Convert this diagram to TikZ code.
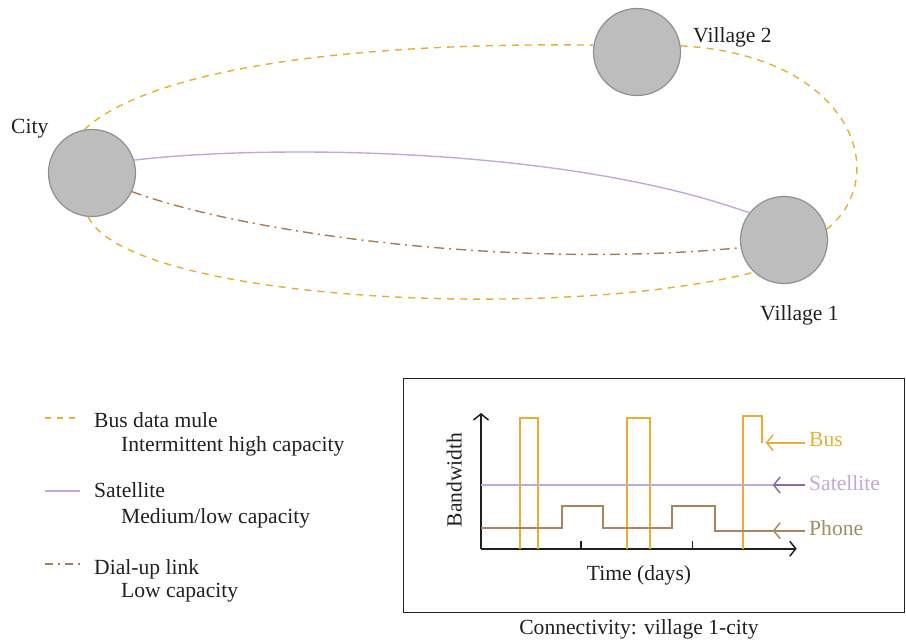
\documentclass[tikz,border=0pt]{standalone}
\usepackage{fontspec}
\setmainfont{Liberation Serif}
\usetikzlibrary{arrows.meta}
\definecolor{busc}{HTML}{E8AE32}
\definecolor{satc}{HTML}{C3A7DA}
\definecolor{satarrow}{HTML}{8A68AE}
\definecolor{dialc}{HTML}{A87B50}
\definecolor{phonec}{HTML}{A9845E}
\definecolor{phonetext}{HTML}{9E8D62}
\definecolor{townfill}{HTML}{BDBDBD}
\definecolor{townedge}{HTML}{8F8F8F}
\definecolor{ink}{HTML}{231F20}
\tikzset{
  town/.style={circle, minimum size=87pt, inner sep=0pt, fill=townfill, draw=townedge, line width=1.2pt},
  label text/.style={anchor=base west, inner sep=0pt},
  buslink/.style={busc, line width=1.4pt, dash pattern=on 7pt off 6pt},
  satlink/.style={satc, line width=1.4pt},
  diallink/.style={dialc, line width=1.4pt, dash pattern=on 10pt off 5pt on 2pt off 5pt},
  series/.style={line width=1.8pt},
  axis/.style={ink, line width=1.6pt, -{Straight Barb[length=6pt,width=15pt,line width=1.5pt]}},
  pointer/.style={line width=1.6pt, -{Straight Barb[length=6.5pt,width=16pt,line width=1.5pt]}},
}
\begin{document}
\begin{tikzpicture}[x=1pt, y=-1pt, font=\fontsize{21.6}{26}\selectfont, text=ink]
\useasboundingbox (0,0) rectangle (906,641);

% towns
\node[town] (city) at (92,173) {};
\node[town] (v2) at (637,52) {};
\node[town] (v1) at (784,240) {};
\node[label text] (citylbl) at (11,133) {City};
\node[label text] (v2lbl) at (693,42) {Village 2};
\node[label text] (v1lbl) at (760,320) {Village 1};

% links
\draw[buslink] (city.100) .. controls +(66,-61) and +(-243,-3) .. (v2.171);
\draw[buslink] (v2.8) .. controls +(170,9) and +(67,-54) .. (v1.14);
\draw[buslink] (city.265) .. controls +(40,83) and +(-202,51) .. (v1.227);
\draw[satlink] (city.17) .. controls +(125,-15) and +(-189,-68) .. (v1.142);
\draw[diallink] (city.335) .. controls +(117,43) and +(-221,22) .. (v1.190);

% legend
\coordinate (lb1) at (45,418); \coordinate (lb2) at (80,418);
\coordinate (ls1) at (45,491); \coordinate (ls2) at (80,491);
\coordinate (ld1) at (45,564); \coordinate (ld2) at (80,564);
\draw[buslink, dash pattern=on 6pt off 6pt] (lb1) -- (lb2);
\draw[satlink] (ls1) -- (ls2);
\draw[diallink, dash pattern=on 8pt off 5pt on 2pt off 5pt] (ld1) -- (ld2);
\node[label text] (lbt1) at (94,427) {Bus data mule};
\node[label text] (lbt2) at (121,451) {Intermittent high capacity};
\node[label text] (lst1) at (94,497) {Satellite};
\node[label text] (lst2) at (121,523) {Medium/low capacity};
\node[label text] (ldt1) at (94,574) {Dial-up link};
\node[label text] (ldt2) at (121,597) {Low capacity};

% connectivity chart
\node[draw=ink, line width=1.4pt, minimum width=501pt, minimum height=234pt, inner sep=0pt, anchor=north west] (frame) at (402.7,377.7) {};
\node[anchor=base, inner sep=0pt] (caption) at (639,634) {Connectivity: village 1-city};

\coordinate (o) at (481,548.7);
\coordinate (ytop) at (481,413);
\coordinate (xend) at (796.7,548.7);
\draw[axis] (o) -- (ytop);
\draw[axis] (o) -- (xend);
\draw[ink, line width=1.6pt] (580.7,548.7) -- (580.7,540.7);
\draw[ink, line width=1.6pt] (692.3,548.7) -- (692.3,540.7);
\node[rotate=90, anchor=base, inner sep=0pt] (ylbl) at (461.7,480) {Bandwidth};
\node[anchor=base, inner sep=0pt] (xlbl) at (639,580) {Time (days)};

% bus pulses
\draw[series, busc] (520,548.7) -- (520,418.3) -- (537.7,418.3) -- (537.7,548.7);
\draw[series, busc] (627.3,548.7) -- (627.3,418.3) -- (649.7,418.3) -- (649.7,548.7);
\draw[series, busc] (743.3,548.7) -- (743.3,416) -- (762.3,416) -- (762.3,443.3);
% satellite level
\draw[series, satc] (481,485) -- (772.7,485);
% phone level
\draw[series, phonec] (481,528) -- (561.7,528) -- (561.7,505.7) -- (603,505.7) -- (603,528)
  -- (671.7,528) -- (671.7,505.7) -- (715,505.7) -- (715,530.7) -- (772.7,530.7);

% series labels with pointers
\node[label text, text=busc] (bustxt) at (809,446.7) {Bus};
\node[label text, text=satc] (sattxt) at (809,490) {Satellite};
\node[label text, text=phonetext] (phonetxt) at (809,535) {Phone};
\coordinate (busptr) at (765.7,442.7);
\coordinate (satptr) at (772.7,485);
\coordinate (phoneptr) at (772.7,530.7);
\draw[pointer, busc] (bustxt.west |- busptr) ++(-4,0) -- (busptr);
\draw[pointer, satarrow] (sattxt.west |- satptr) ++(-4,0) -- (satptr);
\draw[pointer, phonec] (phonetxt.west |- phoneptr) ++(-4,0) -- (phoneptr);
\end{tikzpicture}
\end{document}
